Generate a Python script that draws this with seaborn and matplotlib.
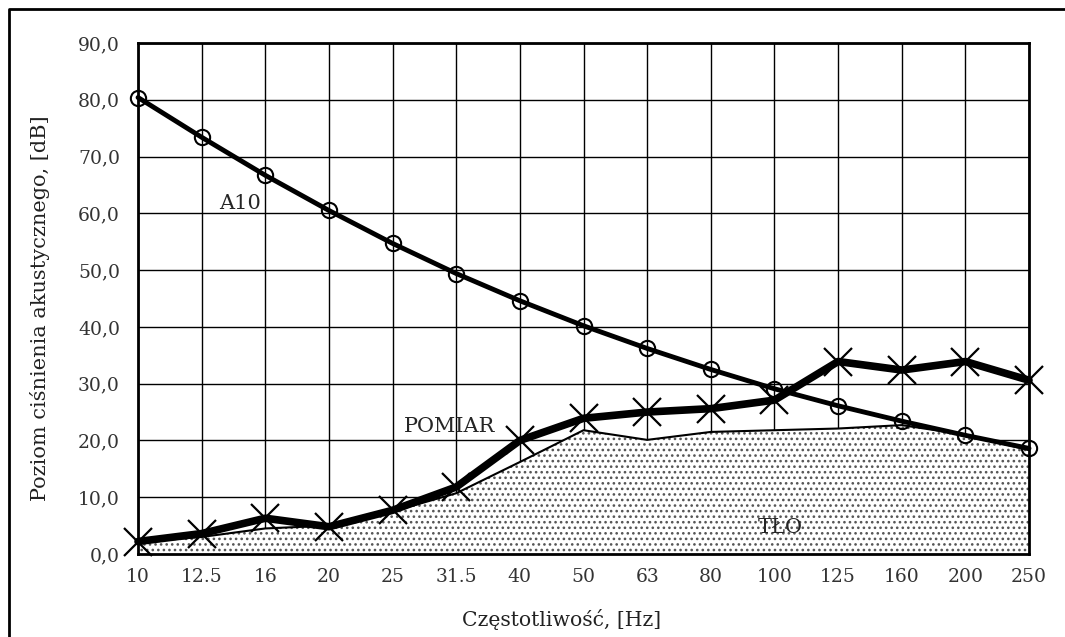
import matplotlib
matplotlib.use('Agg')
import matplotlib.pyplot as plt
import seaborn as sns
import pandas as pd
from matplotlib.lines import Line2D

# frequency bands (1/3 octave) and levels in dB
freq_labels = ['10', '12.5', '16', '20', '25', '31.5', '40', '50', '63', '80',
               '100', '125', '160', '200', '250']
a10 = [80.4, 73.4, 66.7, 60.5, 54.7, 49.4, 44.6, 40.2, 36.2, 32.5,
       29.1, 26.1, 23.4, 20.9, 18.6]
pomiar = [2.2, 3.6, 6.3, 4.8, 7.7, 11.8, 20.0, 23.9, 25.0, 25.6,
          27.1, 33.9, 32.4, 33.9, 30.6]
tlo = [2.1, 3.0, 4.5, 5.0, 7.5, 10.7, 16.2, 21.8, 20.1, 21.5,
       21.8, 22.1, 22.7, 21.0, 18.3]
y_ticks = [0, 10, 20, 30, 40, 50, 60, 70, 80, 90]

df = pd.DataFrame({'pos': range(len(freq_labels)), 'a10': a10,
                   'pomiar': pomiar, 'tlo': tlo})

sns.set_style('white')
plt.rcParams['font.family'] = ['DejaVu Serif']
plt.rcParams['hatch.linewidth'] = 1.1
plt.rcParams['hatch.color'] = '#555555'

fig = plt.figure(figsize=(10.65, 6.37), dpi=100)
ax = fig.add_axes([0.1296, 0.1303, 0.8366, 0.8022])

# background (TŁO) as dotted area
ax.fill_between(df['pos'], 0, df['tlo'], facecolor='white', edgecolor='#555555',
                hatch='...', linewidth=0, zorder=1.5)
sns.lineplot(data=df, x='pos', y='tlo', color='black', linewidth=1.5,
             ax=ax, zorder=2)

sns.lineplot(data=df, x='pos', y='a10', color='black', linewidth=3.5,
             marker='o', markersize=11, markerfacecolor='none',
             markeredgecolor='black', markeredgewidth=1.5, ax=ax, zorder=4,
             clip_on=False)
sns.lineplot(data=df, x='pos', y='pomiar', color='black', linewidth=5.5,
             marker='x', markersize=20, markeredgewidth=1.6,
             markeredgecolor='black', ax=ax, zorder=5, clip_on=False)

ax.set_xlim(0, len(freq_labels) - 1)
ax.set_ylim(0, 90)
ax.set_xticks(df['pos'])
ax.set_xticklabels(freq_labels)
ax.set_yticks(y_ticks)
ax.set_yticklabels([f'{v:.1f}'.replace('.', ',') for v in y_ticks])

ax.set_axisbelow(True)
ax.grid(True, color='black', linewidth=1.0)
for s in ax.spines.values():
    s.set_color('black')
    s.set_linewidth(2.0)
ax.tick_params(axis='both', direction='out', length=7, width=1.0,
               colors='#333333', labelsize=13.5)
ax.tick_params(axis='x', pad=3)
ax.tick_params(axis='y', pad=6)

ax.set_xlabel('Częstotliwość, [Hz]', fontsize=14.7, color='#222222')
ax.set_ylabel('Poziom ciśnienia akustycznego, [dB]', fontsize=15,
              color='#222222')
ax.xaxis.set_label_coords((562 - 138) / 891, -(620 - 554) / 511)
ax.yaxis.set_label_coords(-(138 - 40) / 891, (554 - 308) / 511)
ax.xaxis.label.set_va('center')
ax.yaxis.label.set_va('center')

ax.text(1.28, 61.8, 'A10', fontsize=15, ha='left', va='center')
ax.text(4.89, 22.4, 'POMIAR', fontsize=15, ha='center', va='center')
ax.text(10.09, 4.6, 'TŁO', fontsize=15, ha='center', va='center')

# frame around the whole chart (right and bottom edges lie outside the image)
W, H = 1065, 637
fig.add_artist(Line2D([9 / W, 9 / W, 1.0],
                      [0, 1 - 9 / H, 1 - 9 / H],
                      color='black', linewidth=2.0, transform=fig.transFigure))

fig.savefig('out.png', dpi=100)
